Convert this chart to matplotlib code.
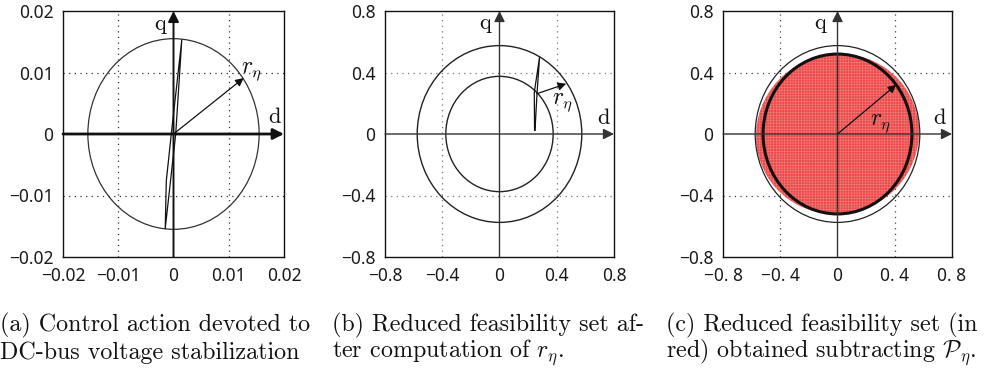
import numpy as np
import matplotlib
matplotlib.use('Agg')
import matplotlib.pyplot as plt
from matplotlib.patches import Circle, Ellipse

plt.rcParams['mathtext.fontset'] = 'cm'
plt.rcParams['font.family'] = ['Noto Sans', 'DejaVu Sans']
plt.rcParams['hatch.linewidth'] = 0.4

# ---------------- data ----------------
a_lim = 0.02
a_ticks = [-0.02, -0.01, 0, 0.01, 0.02]
a_xticklabels = ['−0.02', '−0.01', '0', '0.01', '0.02']
a_yticklabels = ['−0.02', '−0.01', '0', '0.01', '0.02']
a_radius = 0.0155
a_traj_d = [0.0004, 0.0015, -0.0004, -0.0013, -0.0015, 0.0004]
a_traj_q = [0.0, 0.0153, 0.0, -0.0076, -0.0154, 0.0]
a_arrow_end = (0.0127, 0.0091)

b_lim = 0.8
b_ticks = [-0.8, -0.4, 0, 0.4, 0.8]
b_xticklabels = ['−0.8', '−0.4', '0', '0.4', '0.8']
b_yticklabels = ['−0.8', '−0.4', '0', '0.4', '0.8']
b_outer = 0.575
b_inner = 0.375
b_traj_d = [0.245, 0.243, 0.28, 0.262, 0.248]
b_traj_q = [0.024, 0.27, 0.50, 0.262, 0.024]
b_arrow_start = (0.262, 0.262)
b_arrow_end = (0.466, 0.327)

c_lim = 0.8
c_ticks = [-0.8, -0.4, 0, 0.4, 0.8]
c_xticklabels = ['−0. 8', '−0. 4', '0', '0. 4', '0. 8']
c_yticklabels = ['−0.8', '−0.4', '0', '0.4', '0.8']
c_outer = 0.575
c_reduced = 0.52
c_red_width = 1.14
c_red_height = 1.04
c_arrow_end = (0.41, 0.32)

captions = [
    ["(a) Control action devoted to", "DC-bus voltage stabilization"],
    ["(b) Reduced feasibility set af-", r"ter computation of $r_\eta$."],
    ["(c) Reduced feasibility set (in", r"red) obtained subtracting $\mathcal{P}_\eta$."],
]

# ---------------- figure ----------------
W, H = 984, 383
fig = plt.figure(figsize=(W / 100, H / 100), dpi=100)

def make_axes(left_px, right_px, top_px=11, bottom_px=257):
    return fig.add_axes([left_px / W, (H - bottom_px) / H,
                         (right_px - left_px) / W, (bottom_px - top_px) / H])

def style(ax, lim, ticks, xl, yl, gridcolor):
    ax.set_xlim(-lim, lim)
    ax.set_ylim(-lim, lim)
    ax.set_xticks(ticks)
    ax.set_yticks(ticks)
    ax.set_xticklabels(xl)
    ax.set_yticklabels(yl)
    ax.tick_params(length=0, labelsize=12.5, pad=7, colors='#1a1a1a')
    for s in ax.spines.values():
        s.set_linewidth(1.0)
        s.set_color('#111111')
    for t in ticks:
        if t != 0 and abs(t) < lim:
            ax.axvline(t, color=gridcolor, lw=0.9, ls=(0, (1, 3.5)), zorder=0.5)
            ax.axhline(t, color=gridcolor, lw=0.9, ls=(0, (1, 3.5)), zorder=0.5)

def axis_arrows(ax, lim, lw_d, lw_q, color):
    ax.annotate('', xy=(lim, 0), xytext=(-lim, 0), annotation_clip=False,
                arrowprops=dict(arrowstyle='-|>', lw=lw_d, color=color,
                                mutation_scale=16, shrinkA=0, shrinkB=0), zorder=5)
    ax.annotate('', xy=(0, lim), xytext=(0, -lim), annotation_clip=False,
                arrowprops=dict(arrowstyle='-|>', lw=lw_q, color=color,
                                mutation_scale=16, shrinkA=0, shrinkB=0), zorder=5)

def radius_arrow(ax, start, end, lw=0.9):
    ax.annotate('', xy=end, xytext=start,
                arrowprops=dict(arrowstyle='-|>', lw=lw, color='#111111',
                                mutation_scale=12, shrinkA=0, shrinkB=0), zorder=6)

lab_kw = dict(fontsize=16, family='cmr10', ha='center', va='center', color='#111111')
r_kw = dict(fontsize=17, ha='center', va='center', color='#111111')

# ---- panel a ----
ax = make_axes(63, 284)
style(ax, a_lim, a_ticks, a_xticklabels, a_yticklabels, '#333333')
ax.add_patch(Circle((0, 0), a_radius, fill=False, lw=0.9, ec='#333333', zorder=2))
ax.plot(a_traj_d, a_traj_q, color='#111111', lw=0.9, zorder=3)
axis_arrows(ax, a_lim, 2.0, 1.4, '#111111')
radius_arrow(ax, (0, 0), a_arrow_end)
ax.text(0.0141, 0.0102, r'$r_\eta$', **r_kw)
ax.text(-0.0025, 0.0178, 'q', **lab_kw)
ax.text(0.0183, 0.0028, 'd', **lab_kw)

# ---- panel b ----
ax = make_axes(385, 614)
style(ax, b_lim, b_ticks, b_xticklabels, b_yticklabels, '#777777')
ax.add_patch(Circle((0, 0), b_outer, fill=False, lw=1.0, ec='#222222', zorder=2))
ax.add_patch(Circle((0, 0), b_inner, fill=False, lw=1.0, ec='#222222', zorder=2))
ax.plot(b_traj_d, b_traj_q, color='#111111', lw=0.9, zorder=3)
axis_arrows(ax, b_lim, 1.0, 1.0, '#333333')
radius_arrow(ax, b_arrow_start, b_arrow_end)
ax.text(0.44, 0.21, r'$r_\eta$', **r_kw)
ax.text(-0.1, 0.72, 'q', **lab_kw)
ax.text(0.73, 0.1, 'd', **lab_kw)

# ---- panel c ----
ax = make_axes(723, 952)
style(ax, c_lim, c_ticks, c_xticklabels, c_yticklabels, '#444444')
red = Ellipse((0, 0), c_red_width, c_red_height, angle=8, fc='#ec4a4a',
              ec='#f27c7c', lw=0, hatch='++++++', zorder=1)
ax.add_patch(red)
ax.add_patch(Circle((0, 0), c_outer, fill=False, lw=0.9, ec='#222222', zorder=2))
ax.add_patch(Circle((0, 0), c_reduced, fill=False, lw=2.2, ec='#111111', zorder=3))
axis_arrows(ax, c_lim, 1.0, 1.0, '#333333')
radius_arrow(ax, (0, 0), c_arrow_end)
ax.text(0.30, 0.07, r'$r_\eta$', **r_kw)
ax.text(-0.12, 0.72, 'q', **lab_kw)
ax.text(0.71, 0.1, 'd', **lab_kw)

# ---- captions ----
cap_x = [0, 332, 666]
cap_y = [325, 353]
for xs, lines in zip(cap_x, captions):
    for yy, line in zip(cap_y, lines):
        fig.text(xs / W, (H - yy) / H, line, family='cmr10', fontsize=17.3,
                 ha='left', va='center', color='#111111')

fig.savefig('out.png', dpi=100)
